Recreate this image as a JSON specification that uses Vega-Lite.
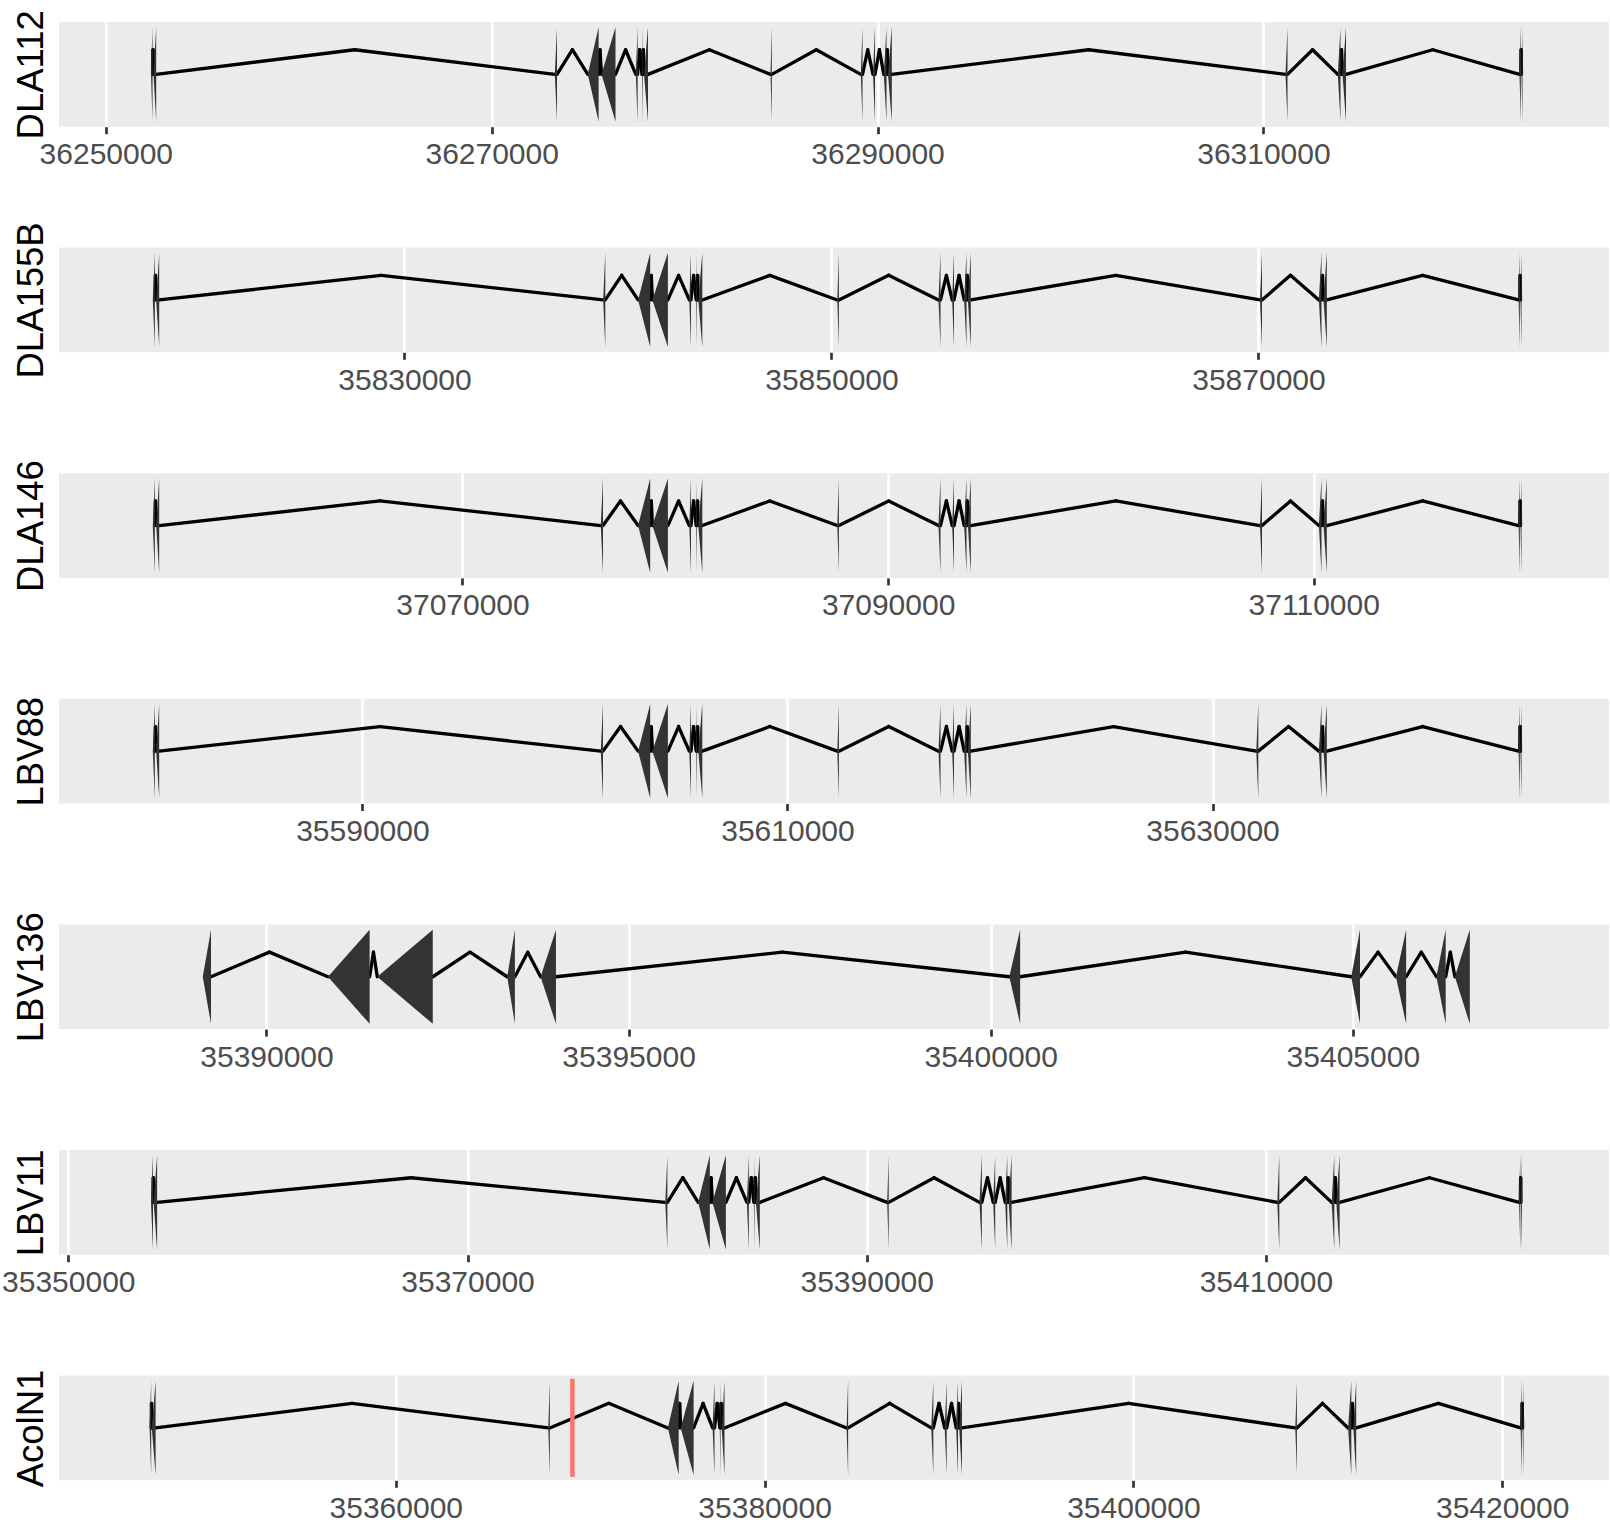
{
"$schema": "https://vega.github.io/schema/vega-lite/v6.json",
"autosize": {"type": "pad"},
"padding": {"left": 1, "top": 9, "right": 0, "bottom": 0},
"background": "white",
"datasets": {
"exons": [
{"gene":"DLA112","exon":1,"start":36252343,"end":36252420},
{"gene":"DLA112","exon":2,"start":36252472,"end":36252612},
{"gene":"DLA112","exon":3,"start":36273272,"end":36273386},
{"gene":"DLA112","exon":4,"start":36274982,"end":36275542},
{"gene":"DLA112","exon":5,"start":36275692,"end":36276418},
{"gene":"DLA112","exon":6,"start":36277470,"end":36277563},
{"gene":"DLA112","exon":7,"start":36277786,"end":36277822},
{"gene":"DLA112","exon":8,"start":36277895,"end":36278102},
{"gene":"DLA112","exon":9,"start":36284451,"end":36284519},
{"gene":"DLA112","exon":10,"start":36289132,"end":36289220},
{"gene":"DLA112","exon":11,"start":36289764,"end":36289868},
{"gene":"DLA112","exon":12,"start":36290324,"end":36290464},
{"gene":"DLA112","exon":13,"start":36290541,"end":36290738},
{"gene":"DLA112","exon":14,"start":36311144,"end":36311248},
{"gene":"DLA112","exon":15,"start":36313855,"end":36313995},
{"gene":"DLA112","exon":16,"start":36314098,"end":36314280},
{"gene":"DLA112","exon":17,"start":36323272,"end":36323339},
{"gene":"DLA112","exon":18,"start":36323376,"end":36323428},
{"gene":"DLA155B","exon":1,"start":35818210,"end":35818304},
{"gene":"DLA155B","exon":2,"start":35818370,"end":35818510},
{"gene":"DLA155B","exon":3,"start":35839307,"end":35839405},
{"gene":"DLA155B","exon":4,"start":35840942,"end":35841509},
{"gene":"DLA155B","exon":5,"start":35841612,"end":35842338},
{"gene":"DLA155B","exon":6,"start":35843340,"end":35843420},
{"gene":"DLA155B","exon":7,"start":35843663,"end":35843696},
{"gene":"DLA155B","exon":8,"start":35843762,"end":35843949},
{"gene":"DLA155B","exon":9,"start":35850272,"end":35850347},
{"gene":"DLA155B","exon":10,"start":35855013,"end":35855106},
{"gene":"DLA155B","exon":11,"start":35855654,"end":35855739},
{"gene":"DLA155B","exon":12,"start":35856216,"end":35856324},
{"gene":"DLA155B","exon":13,"start":35856390,"end":35856526},
{"gene":"DLA155B","exon":14,"start":35870072,"end":35870165},
{"gene":"DLA155B","exon":15,"start":35872830,"end":35872952},
{"gene":"DLA155B","exon":16,"start":35873046,"end":35873201},
{"gene":"DLA155B","exon":17,"start":35882184,"end":35882241},
{"gene":"DLA155B","exon":18,"start":35882273,"end":35882320},
{"gene":"DLA146","exon":1,"start":37055447,"end":37055541},
{"gene":"DLA146","exon":2,"start":37055607,"end":37055748},
{"gene":"DLA146","exon":3,"start":37076499,"end":37076602},
{"gene":"DLA146","exon":4,"start":37078251,"end":37078820},
{"gene":"DLA146","exon":5,"start":37078923,"end":37079652},
{"gene":"DLA146","exon":6,"start":37080657,"end":37080737},
{"gene":"DLA146","exon":7,"start":37080981,"end":37081014},
{"gene":"DLA146","exon":8,"start":37081080,"end":37081268},
{"gene":"DLA146","exon":9,"start":37087612,"end":37087687},
{"gene":"DLA146","exon":10,"start":37092367,"end":37092461},
{"gene":"DLA146","exon":11,"start":37093011,"end":37093096},
{"gene":"DLA146","exon":12,"start":37093575,"end":37093683},
{"gene":"DLA146","exon":13,"start":37093749,"end":37093885},
{"gene":"DLA146","exon":14,"start":37107475,"end":37107568},
{"gene":"DLA146","exon":15,"start":37110242,"end":37110364},
{"gene":"DLA146","exon":16,"start":37110458,"end":37110613},
{"gene":"DLA146","exon":17,"start":37119626,"end":37119683},
{"gene":"DLA146","exon":18,"start":37119716,"end":37119762},
{"gene":"LBV88","exon":1,"start":35580138,"end":35580232},
{"gene":"LBV88","exon":2,"start":35580298,"end":35580439},
{"gene":"LBV88","exon":3,"start":35601217,"end":35601320},
{"gene":"LBV88","exon":4,"start":35602972,"end":35603541},
{"gene":"LBV88","exon":5,"start":35603645,"end":35604374},
{"gene":"LBV88","exon":6,"start":35605381,"end":35605461},
{"gene":"LBV88","exon":7,"start":35605705,"end":35605738},
{"gene":"LBV88","exon":8,"start":35605804,"end":35605992},
{"gene":"LBV88","exon":9,"start":35612344,"end":35612419},
{"gene":"LBV88","exon":10,"start":35617106,"end":35617200},
{"gene":"LBV88","exon":11,"start":35617750,"end":35617835},
{"gene":"LBV88","exon":12,"start":35618315,"end":35618423},
{"gene":"LBV88","exon":13,"start":35618489,"end":35618625},
{"gene":"LBV88","exon":14,"start":35632058,"end":35632152},
{"gene":"LBV88","exon":15,"start":35635003,"end":35635126},
{"gene":"LBV88","exon":16,"start":35635220,"end":35635375},
{"gene":"LBV88","exon":17,"start":35644399,"end":35644456},
{"gene":"LBV88","exon":18,"start":35644489,"end":35644536},
{"gene":"LBV136","exon":1,"start":35389120,"end":35389234},
{"gene":"LBV136","exon":2,"start":35390849,"end":35391424},
{"gene":"LBV136","exon":3,"start":35391530,"end":35392296},
{"gene":"LBV136","exon":4,"start":35393324,"end":35393430},
{"gene":"LBV136","exon":5,"start":35393785,"end":35393997},
{"gene":"LBV136","exon":6,"start":35400257,"end":35400406},
{"gene":"LBV136","exon":7,"start":35404978,"end":35405099},
{"gene":"LBV136","exon":8,"start":35405595,"end":35405736},
{"gene":"LBV136","exon":9,"start":35406154,"end":35406282},
{"gene":"LBV136","exon":10,"start":35406409,"end":35406615},
{"gene":"LBV11","exon":1,"start":35354143,"end":35354243},
{"gene":"LBV11","exon":2,"start":35354274,"end":35354449},
{"gene":"LBV11","exon":3,"start":35379910,"end":35380015},
{"gene":"LBV11","exon":4,"start":35381558,"end":35382139},
{"gene":"LBV11","exon":5,"start":35382269,"end":35382946},
{"gene":"LBV11","exon":6,"start":35383998,"end":35384093},
{"gene":"LBV11","exon":7,"start":35384344,"end":35384379},
{"gene":"LBV11","exon":8,"start":35384449,"end":35384644},
{"gene":"LBV11","exon":9,"start":35391027,"end":35391102},
{"gene":"LBV11","exon":10,"start":35395651,"end":35395766},
{"gene":"LBV11","exon":11,"start":35396337,"end":35396438},
{"gene":"LBV11","exon":12,"start":35396939,"end":35397044},
{"gene":"LBV11","exon":13,"start":35397114,"end":35397259},
{"gene":"LBV11","exon":14,"start":35410571,"end":35410671},
{"gene":"LBV11","exon":15,"start":35413296,"end":35413427},
{"gene":"LBV11","exon":16,"start":35413527,"end":35413692},
{"gene":"LBV11","exon":17,"start":35422685,"end":35422745},
{"gene":"LBV11","exon":18,"start":35422780,"end":35422830},
{"gene":"AcolN1","exon":1,"start":35346649,"end":35346735},
{"gene":"AcolN1","exon":2,"start":35346768,"end":35346974},
{"gene":"AcolN1","exon":3,"start":35368270,"end":35368351},
{"gene":"AcolN1","exon":4,"start":35374756,"end":35375342},
{"gene":"AcolN1","exon":5,"start":35375450,"end":35376150},
{"gene":"AcolN1","exon":6,"start":35377180,"end":35377283},
{"gene":"AcolN1","exon":7,"start":35377571,"end":35377608},
{"gene":"AcolN1","exon":8,"start":35377674,"end":35377825},
{"gene":"AcolN1","exon":9,"start":35384447,"end":35384528},
{"gene":"AcolN1","exon":10,"start":35389040,"end":35389149},
{"gene":"AcolN1","exon":11,"start":35389767,"end":35389875},
{"gene":"AcolN1","exon":12,"start":35390390,"end":35390488},
{"gene":"AcolN1","exon":13,"start":35390553,"end":35390705},
{"gene":"AcolN1","exon":14,"start":35408780,"end":35408867},
{"gene":"AcolN1","exon":15,"start":35411643,"end":35411817},
{"gene":"AcolN1","exon":16,"start":35411925,"end":35412083},
{"gene":"AcolN1","exon":17,"start":35420998,"end":35421063},
{"gene":"AcolN1","exon":18,"start":35421106,"end":35421155}
],
"introns": [
{"gene":"DLA112","start":36252420,"peak":36252446,"end":36252472},
{"gene":"DLA112","start":36252612,"peak":36262900,"end":36273272},
{"gene":"DLA112","start":36273386,"peak":36274184,"end":36274982},
{"gene":"DLA112","start":36275542,"peak":36275614,"end":36275692},
{"gene":"DLA112","start":36276418,"peak":36276941,"end":36277470},
{"gene":"DLA112","start":36277563,"peak":36277672,"end":36277786},
{"gene":"DLA112","start":36277822,"peak":36277859,"end":36277895},
{"gene":"DLA112","start":36278102,"peak":36281280,"end":36284451},
{"gene":"DLA112","start":36284519,"peak":36286825,"end":36289132},
{"gene":"DLA112","start":36289220,"peak":36289492,"end":36289764},
{"gene":"DLA112","start":36289868,"peak":36290096,"end":36290324},
{"gene":"DLA112","start":36290464,"peak":36290503,"end":36290541},
{"gene":"DLA112","start":36290738,"peak":36300944,"end":36311144},
{"gene":"DLA112","start":36311248,"peak":36312548,"end":36313855},
{"gene":"DLA112","start":36313995,"peak":36314046,"end":36314098},
{"gene":"DLA112","start":36314280,"peak":36318778,"end":36323272},
{"gene":"DLA112","start":36323339,"peak":36323358,"end":36323376},
{"gene":"DLA155B","start":35818304,"peak":35818337,"end":35818370},
{"gene":"DLA155B","start":35818510,"peak":35828909,"end":35839307},
{"gene":"DLA155B","start":35839405,"peak":35840174,"end":35840942},
{"gene":"DLA155B","start":35841509,"peak":35841560,"end":35841612},
{"gene":"DLA155B","start":35842338,"peak":35842839,"end":35843340},
{"gene":"DLA155B","start":35843420,"peak":35843542,"end":35843663},
{"gene":"DLA155B","start":35843696,"peak":35843729,"end":35843762},
{"gene":"DLA155B","start":35843949,"peak":35847111,"end":35850272},
{"gene":"DLA155B","start":35850347,"peak":35852680,"end":35855013},
{"gene":"DLA155B","start":35855106,"peak":35855383,"end":35855654},
{"gene":"DLA155B","start":35855739,"peak":35855977,"end":35856216},
{"gene":"DLA155B","start":35856324,"peak":35856357,"end":35856390},
{"gene":"DLA155B","start":35856526,"peak":35863317,"end":35870072},
{"gene":"DLA155B","start":35870165,"peak":35871500,"end":35872830},
{"gene":"DLA155B","start":35872952,"peak":35872999,"end":35873046},
{"gene":"DLA155B","start":35873201,"peak":35877693,"end":35882184},
{"gene":"DLA155B","start":35882241,"peak":35882257,"end":35882273},
{"gene":"DLA146","start":37055541,"peak":37055574,"end":37055607},
{"gene":"DLA146","start":37055748,"peak":37066123,"end":37076499},
{"gene":"DLA146","start":37076602,"peak":37077424,"end":37078251},
{"gene":"DLA146","start":37078820,"peak":37078872,"end":37078923},
{"gene":"DLA146","start":37079652,"peak":37080155,"end":37080657},
{"gene":"DLA146","start":37080737,"peak":37080859,"end":37080981},
{"gene":"DLA146","start":37081014,"peak":37081047,"end":37081080},
{"gene":"DLA146","start":37081268,"peak":37084440,"end":37087612},
{"gene":"DLA146","start":37087687,"peak":37090027,"end":37092367},
{"gene":"DLA146","start":37092461,"peak":37092738,"end":37093011},
{"gene":"DLA146","start":37093096,"peak":37093335,"end":37093575},
{"gene":"DLA146","start":37093683,"peak":37093716,"end":37093749},
{"gene":"DLA146","start":37093885,"peak":37100699,"end":37107475},
{"gene":"DLA146","start":37107568,"peak":37108908,"end":37110242},
{"gene":"DLA146","start":37110364,"peak":37110411,"end":37110458},
{"gene":"DLA146","start":37110613,"peak":37115120,"end":37119626},
{"gene":"DLA146","start":37119683,"peak":37119699,"end":37119716},
{"gene":"LBV88","start":35580232,"peak":35580265,"end":35580298},
{"gene":"LBV88","start":35580439,"peak":35590828,"end":35601217},
{"gene":"LBV88","start":35601320,"peak":35602144,"end":35602972},
{"gene":"LBV88","start":35603541,"peak":35603593,"end":35603645},
{"gene":"LBV88","start":35604374,"peak":35604877,"end":35605381},
{"gene":"LBV88","start":35605461,"peak":35605583,"end":35605705},
{"gene":"LBV88","start":35605738,"peak":35605771,"end":35605804},
{"gene":"LBV88","start":35605992,"peak":35609168,"end":35612344},
{"gene":"LBV88","start":35612419,"peak":35614762,"end":35617106},
{"gene":"LBV88","start":35617200,"peak":35617477,"end":35617750},
{"gene":"LBV88","start":35617835,"peak":35618075,"end":35618315},
{"gene":"LBV88","start":35618423,"peak":35618456,"end":35618489},
{"gene":"LBV88","start":35618625,"peak":35625344,"end":35632058},
{"gene":"LBV88","start":35632152,"peak":35633578,"end":35635003},
{"gene":"LBV88","start":35635126,"peak":35635173,"end":35635220},
{"gene":"LBV88","start":35635375,"peak":35639887,"end":35644399},
{"gene":"LBV88","start":35644456,"peak":35644472,"end":35644489},
{"gene":"LBV136","start":35389234,"peak":35390041,"end":35390849},
{"gene":"LBV136","start":35391424,"peak":35391477,"end":35391530},
{"gene":"LBV136","start":35392296,"peak":35392810,"end":35393324},
{"gene":"LBV136","start":35393430,"peak":35393607,"end":35393785},
{"gene":"LBV136","start":35393997,"peak":35397126,"end":35400257},
{"gene":"LBV136","start":35400406,"peak":35402691,"end":35404978},
{"gene":"LBV136","start":35405099,"peak":35405348,"end":35405595},
{"gene":"LBV136","start":35405736,"peak":35405945,"end":35406154},
{"gene":"LBV136","start":35406282,"peak":35406346,"end":35406409},
{"gene":"LBV11","start":35354243,"peak":35354259,"end":35354274},
{"gene":"LBV11","start":35354449,"peak":35367179,"end":35379910},
{"gene":"LBV11","start":35380015,"peak":35380786,"end":35381558},
{"gene":"LBV11","start":35382139,"peak":35382204,"end":35382269},
{"gene":"LBV11","start":35382946,"peak":35383472,"end":35383998},
{"gene":"LBV11","start":35384093,"peak":35384218,"end":35384344},
{"gene":"LBV11","start":35384379,"peak":35384414,"end":35384449},
{"gene":"LBV11","start":35384644,"peak":35387836,"end":35391027},
{"gene":"LBV11","start":35391102,"peak":35393377,"end":35395651},
{"gene":"LBV11","start":35395766,"peak":35396052,"end":35396337},
{"gene":"LBV11","start":35396438,"peak":35396688,"end":35396939},
{"gene":"LBV11","start":35397044,"peak":35397079,"end":35397114},
{"gene":"LBV11","start":35397259,"peak":35403913,"end":35410571},
{"gene":"LBV11","start":35410671,"peak":35411984,"end":35413296},
{"gene":"LBV11","start":35413427,"peak":35413477,"end":35413527},
{"gene":"LBV11","start":35413692,"peak":35418191,"end":35422685},
{"gene":"LBV11","start":35422745,"peak":35422763,"end":35422780},
{"gene":"AcolN1","start":35346735,"peak":35346752,"end":35346768},
{"gene":"AcolN1","start":35346974,"peak":35357625,"end":35368270},
{"gene":"AcolN1","start":35368351,"peak":35371551,"end":35374756},
{"gene":"AcolN1","start":35375342,"peak":35375396,"end":35375450},
{"gene":"AcolN1","start":35376150,"peak":35376665,"end":35377180},
{"gene":"AcolN1","start":35377283,"peak":35377430,"end":35377571},
{"gene":"AcolN1","start":35377608,"peak":35377641,"end":35377674},
{"gene":"AcolN1","start":35377825,"peak":35381133,"end":35384447},
{"gene":"AcolN1","start":35384528,"peak":35386784,"end":35389040},
{"gene":"AcolN1","start":35389149,"peak":35389458,"end":35389767},
{"gene":"AcolN1","start":35389875,"peak":35390136,"end":35390390},
{"gene":"AcolN1","start":35390488,"peak":35390521,"end":35390553},
{"gene":"AcolN1","start":35390705,"peak":35399740,"end":35408780},
{"gene":"AcolN1","start":35408867,"peak":35410255,"end":35411643},
{"gene":"AcolN1","start":35411817,"peak":35411871,"end":35411925},
{"gene":"AcolN1","start":35412083,"peak":35416540,"end":35420998},
{"gene":"AcolN1","start":35421063,"peak":35421085,"end":35421106}
],
"markers": [
{"gene":"AcolN1","pos":35369577}
]
},
"vconcat": [
{"width":1550,"height":104.7,"resolve":{"axis":{"x":"independent"}},
"layer":[
{"data":{"name":"introns"},"transform":[{"filter":"datum.gene === 'DLA112'"}],
"mark":{"type":"rule","color":"black","strokeWidth":3.3,"strokeCap":"round"},
"encoding":{"x":{"field":"start","type":"quantitative","scale":{"domain":[36247574,36327911],"nice":false,"zero":false},"axis":{"values":[36250000,36270000,36290000,36310000],"title":null}},
"x2":{"field":"peak"},
"y":{"datum":0.5,"type":"quantitative","scale":{"domain":[0,1],"nice":false,"zero":false},"title":"DLA112"},
"y2":{"datum":0.735}}},
{"data":{"name":"introns"},"transform":[{"filter":"datum.gene === 'DLA112'"}],
"mark":{"type":"rule","color":"black","strokeWidth":3.3,"strokeCap":"round"},
"encoding":{"x":{"field":"peak","type":"quantitative","scale":{"domain":[36247574,36327911],"nice":false,"zero":false},"axis":{"orient":"top","values":[36260000,36280000,36300000,36320000],"gridWidth":1.35,"ticks":false,"labels":false,"title":null}},
"x2":{"field":"end"},
"y":{"datum":0.735,"type":"quantitative","scale":{"domain":[0,1],"nice":false,"zero":false},"title":"DLA112"},
"y2":{"datum":0.5}}},
{"data":{"name":"exons"},"transform":[{"filter":"datum.gene === 'DLA112'"},{"fold":["start","end"],"as":["vertex","pos"]},{"calculate":"datum.vertex === 'end' ? 0.95 : 0.5","as":"top"},{"calculate":"datum.vertex === 'end' ? 0.05 : 0.5","as":"bot"}],
"mark":{"type":"area","color":"#333333"},
"encoding":{"x":{"field":"pos","type":"quantitative","scale":{"domain":[36247574,36327911],"nice":false,"zero":false},"axis":null},
"y":{"field":"top","type":"quantitative","scale":{"domain":[0,1],"nice":false,"zero":false},"title":"DLA112"},
"y2":{"field":"bot"},"detail":{"field":"exon"}}}
]},
{"width":1550,"height":104.7,"resolve":{"axis":{"x":"independent"}},
"layer":[
{"data":{"name":"introns"},"transform":[{"filter":"datum.gene === 'DLA155B'"}],
"mark":{"type":"rule","color":"black","strokeWidth":3.3,"strokeCap":"round"},
"encoding":{"x":{"field":"start","type":"quantitative","scale":{"domain":[35813817,35886419],"nice":false,"zero":false},"axis":{"values":[35830000,35850000,35870000],"title":null}},
"x2":{"field":"peak"},
"y":{"datum":0.5,"type":"quantitative","scale":{"domain":[0,1],"nice":false,"zero":false},"title":"DLA155B"},
"y2":{"datum":0.735}}},
{"data":{"name":"introns"},"transform":[{"filter":"datum.gene === 'DLA155B'"}],
"mark":{"type":"rule","color":"black","strokeWidth":3.3,"strokeCap":"round"},
"encoding":{"x":{"field":"peak","type":"quantitative","scale":{"domain":[35813817,35886419],"nice":false,"zero":false},"axis":{"orient":"top","values":[35820000,35840000,35860000,35880000],"gridWidth":1.35,"ticks":false,"labels":false,"title":null}},
"x2":{"field":"end"},
"y":{"datum":0.735,"type":"quantitative","scale":{"domain":[0,1],"nice":false,"zero":false},"title":"DLA155B"},
"y2":{"datum":0.5}}},
{"data":{"name":"exons"},"transform":[{"filter":"datum.gene === 'DLA155B'"},{"fold":["start","end"],"as":["vertex","pos"]},{"calculate":"datum.vertex === 'end' ? 0.95 : 0.5","as":"top"},{"calculate":"datum.vertex === 'end' ? 0.05 : 0.5","as":"bot"}],
"mark":{"type":"area","color":"#333333"},
"encoding":{"x":{"field":"pos","type":"quantitative","scale":{"domain":[35813817,35886419],"nice":false,"zero":false},"axis":null},
"y":{"field":"top","type":"quantitative","scale":{"domain":[0,1],"nice":false,"zero":false},"title":"DLA155B"},
"y2":{"field":"bot"},"detail":{"field":"exon"}}}
]},
{"width":1550,"height":104.7,"resolve":{"axis":{"x":"independent"}},
"layer":[
{"data":{"name":"introns"},"transform":[{"filter":"datum.gene === 'DLA146'"}],
"mark":{"type":"rule","color":"black","strokeWidth":3.3,"strokeCap":"round"},
"encoding":{"x":{"field":"start","type":"quantitative","scale":{"domain":[37051040,37123874],"nice":false,"zero":false},"axis":{"values":[37070000,37090000,37110000],"title":null}},
"x2":{"field":"peak"},
"y":{"datum":0.5,"type":"quantitative","scale":{"domain":[0,1],"nice":false,"zero":false},"title":"DLA146"},
"y2":{"datum":0.735}}},
{"data":{"name":"introns"},"transform":[{"filter":"datum.gene === 'DLA146'"}],
"mark":{"type":"rule","color":"black","strokeWidth":3.3,"strokeCap":"round"},
"encoding":{"x":{"field":"peak","type":"quantitative","scale":{"domain":[37051040,37123874],"nice":false,"zero":false},"axis":{"orient":"top","values":[37060000,37080000,37100000,37120000],"gridWidth":1.35,"ticks":false,"labels":false,"title":null}},
"x2":{"field":"end"},
"y":{"datum":0.735,"type":"quantitative","scale":{"domain":[0,1],"nice":false,"zero":false},"title":"DLA146"},
"y2":{"datum":0.5}}},
{"data":{"name":"exons"},"transform":[{"filter":"datum.gene === 'DLA146'"},{"fold":["start","end"],"as":["vertex","pos"]},{"calculate":"datum.vertex === 'end' ? 0.95 : 0.5","as":"top"},{"calculate":"datum.vertex === 'end' ? 0.05 : 0.5","as":"bot"}],
"mark":{"type":"area","color":"#333333"},
"encoding":{"x":{"field":"pos","type":"quantitative","scale":{"domain":[37051040,37123874],"nice":false,"zero":false},"axis":null},
"y":{"field":"top","type":"quantitative","scale":{"domain":[0,1],"nice":false,"zero":false},"title":"DLA146"},
"y2":{"field":"bot"},"detail":{"field":"exon"}}}
]},
{"width":1550,"height":104.7,"resolve":{"axis":{"x":"independent"}},
"layer":[
{"data":{"name":"introns"},"transform":[{"filter":"datum.gene === 'LBV88'"}],
"mark":{"type":"rule","color":"black","strokeWidth":3.3,"strokeCap":"round"},
"encoding":{"x":{"field":"start","type":"quantitative","scale":{"domain":[35575725,35648653],"nice":false,"zero":false},"axis":{"values":[35590000,35610000,35630000],"title":null}},
"x2":{"field":"peak"},
"y":{"datum":0.5,"type":"quantitative","scale":{"domain":[0,1],"nice":false,"zero":false},"title":"LBV88"},
"y2":{"datum":0.735}}},
{"data":{"name":"introns"},"transform":[{"filter":"datum.gene === 'LBV88'"}],
"mark":{"type":"rule","color":"black","strokeWidth":3.3,"strokeCap":"round"},
"encoding":{"x":{"field":"peak","type":"quantitative","scale":{"domain":[35575725,35648653],"nice":false,"zero":false},"axis":{"orient":"top","values":[35580000,35600000,35620000,35640000],"gridWidth":1.35,"ticks":false,"labels":false,"title":null}},
"x2":{"field":"end"},
"y":{"datum":0.735,"type":"quantitative","scale":{"domain":[0,1],"nice":false,"zero":false},"title":"LBV88"},
"y2":{"datum":0.5}}},
{"data":{"name":"exons"},"transform":[{"filter":"datum.gene === 'LBV88'"},{"fold":["start","end"],"as":["vertex","pos"]},{"calculate":"datum.vertex === 'end' ? 0.95 : 0.5","as":"top"},{"calculate":"datum.vertex === 'end' ? 0.05 : 0.5","as":"bot"}],
"mark":{"type":"area","color":"#333333"},
"encoding":{"x":{"field":"pos","type":"quantitative","scale":{"domain":[35575725,35648653],"nice":false,"zero":false},"axis":null},
"y":{"field":"top","type":"quantitative","scale":{"domain":[0,1],"nice":false,"zero":false},"title":"LBV88"},
"y2":{"field":"bot"},"detail":{"field":"exon"}}}
]},
{"width":1550,"height":104.7,"resolve":{"axis":{"x":"independent"}},
"layer":[
{"data":{"name":"introns"},"transform":[{"filter":"datum.gene === 'LBV136'"}],
"mark":{"type":"rule","color":"black","strokeWidth":3.3,"strokeCap":"round"},
"encoding":{"x":{"field":"start","type":"quantitative","scale":{"domain":[35387135,35408537],"nice":false,"zero":false},"axis":{"values":[35390000,35395000,35400000,35405000],"title":null}},
"x2":{"field":"peak"},
"y":{"datum":0.5,"type":"quantitative","scale":{"domain":[0,1],"nice":false,"zero":false},"title":"LBV136"},
"y2":{"datum":0.735}}},
{"data":{"name":"introns"},"transform":[{"filter":"datum.gene === 'LBV136'"}],
"mark":{"type":"rule","color":"black","strokeWidth":3.3,"strokeCap":"round"},
"encoding":{"x":{"field":"peak","type":"quantitative","scale":{"domain":[35387135,35408537],"nice":false,"zero":false},"axis":{"orient":"top","values":[35387500,35392500,35397500,35402500,35407500],"gridWidth":1.35,"ticks":false,"labels":false,"title":null}},
"x2":{"field":"end"},
"y":{"datum":0.735,"type":"quantitative","scale":{"domain":[0,1],"nice":false,"zero":false},"title":"LBV136"},
"y2":{"datum":0.5}}},
{"data":{"name":"exons"},"transform":[{"filter":"datum.gene === 'LBV136'"},{"fold":["start","end"],"as":["vertex","pos"]},{"calculate":"datum.vertex === 'end' ? 0.95 : 0.5","as":"top"},{"calculate":"datum.vertex === 'end' ? 0.05 : 0.5","as":"bot"}],
"mark":{"type":"area","color":"#333333"},
"encoding":{"x":{"field":"pos","type":"quantitative","scale":{"domain":[35387135,35408537],"nice":false,"zero":false},"axis":null},
"y":{"field":"top","type":"quantitative","scale":{"domain":[0,1],"nice":false,"zero":false},"title":"LBV136"},
"y2":{"field":"bot"},"detail":{"field":"exon"}}}
]},
{"width":1550,"height":104.7,"resolve":{"axis":{"x":"independent"}},
"layer":[
{"data":{"name":"introns"},"transform":[{"filter":"datum.gene === 'LBV11'"}],
"mark":{"type":"rule","color":"black","strokeWidth":3.3,"strokeCap":"round"},
"encoding":{"x":{"field":"start","type":"quantitative","scale":{"domain":[35349534,35427189],"nice":false,"zero":false},"axis":{"values":[35350000,35370000,35390000,35410000],"title":null}},
"x2":{"field":"peak"},
"y":{"datum":0.5,"type":"quantitative","scale":{"domain":[0,1],"nice":false,"zero":false},"title":"LBV11"},
"y2":{"datum":0.735}}},
{"data":{"name":"introns"},"transform":[{"filter":"datum.gene === 'LBV11'"}],
"mark":{"type":"rule","color":"black","strokeWidth":3.3,"strokeCap":"round"},
"encoding":{"x":{"field":"peak","type":"quantitative","scale":{"domain":[35349534,35427189],"nice":false,"zero":false},"axis":{"orient":"top","values":[35360000,35380000,35400000,35420000],"gridWidth":1.35,"ticks":false,"labels":false,"title":null}},
"x2":{"field":"end"},
"y":{"datum":0.735,"type":"quantitative","scale":{"domain":[0,1],"nice":false,"zero":false},"title":"LBV11"},
"y2":{"datum":0.5}}},
{"data":{"name":"exons"},"transform":[{"filter":"datum.gene === 'LBV11'"},{"fold":["start","end"],"as":["vertex","pos"]},{"calculate":"datum.vertex === 'end' ? 0.95 : 0.5","as":"top"},{"calculate":"datum.vertex === 'end' ? 0.05 : 0.5","as":"bot"}],
"mark":{"type":"area","color":"#333333"},
"encoding":{"x":{"field":"pos","type":"quantitative","scale":{"domain":[35349534,35427189],"nice":false,"zero":false},"axis":null},
"y":{"field":"top","type":"quantitative","scale":{"domain":[0,1],"nice":false,"zero":false},"title":"LBV11"},
"y2":{"field":"bot"},"detail":{"field":"exon"}}}
]},
{"width":1550,"height":104.7,"resolve":{"axis":{"x":"independent"}},
"layer":[
{"data":{"name":"introns"},"transform":[{"filter":"datum.gene === 'AcolN1'"}],
"mark":{"type":"rule","color":"black","strokeWidth":3.3,"strokeCap":"round"},
"encoding":{"x":{"field":"start","type":"quantitative","scale":{"domain":[35341735,35425792],"nice":false,"zero":false},"axis":{"values":[35360000,35380000,35400000,35420000],"title":null}},
"x2":{"field":"peak"},
"y":{"datum":0.5,"type":"quantitative","scale":{"domain":[0,1],"nice":false,"zero":false},"title":"AcolN1"},
"y2":{"datum":0.735}}},
{"data":{"name":"introns"},"transform":[{"filter":"datum.gene === 'AcolN1'"}],
"mark":{"type":"rule","color":"black","strokeWidth":3.3,"strokeCap":"round"},
"encoding":{"x":{"field":"peak","type":"quantitative","scale":{"domain":[35341735,35425792],"nice":false,"zero":false},"axis":{"orient":"top","values":[35350000,35370000,35390000,35410000],"gridWidth":1.35,"ticks":false,"labels":false,"title":null}},
"x2":{"field":"end"},
"y":{"datum":0.735,"type":"quantitative","scale":{"domain":[0,1],"nice":false,"zero":false},"title":"AcolN1"},
"y2":{"datum":0.5}}},
{"data":{"name":"exons"},"transform":[{"filter":"datum.gene === 'AcolN1'"},{"fold":["start","end"],"as":["vertex","pos"]},{"calculate":"datum.vertex === 'end' ? 0.95 : 0.5","as":"top"},{"calculate":"datum.vertex === 'end' ? 0.05 : 0.5","as":"bot"}],
"mark":{"type":"area","color":"#333333"},
"encoding":{"x":{"field":"pos","type":"quantitative","scale":{"domain":[35341735,35425792],"nice":false,"zero":false},"axis":null},
"y":{"field":"top","type":"quantitative","scale":{"domain":[0,1],"nice":false,"zero":false},"title":"AcolN1"},
"y2":{"field":"bot"},"detail":{"field":"exon"}}},
{"data":{"name":"markers"},"transform":[{"filter":"datum.gene === 'AcolN1'"}],
"mark":{"type":"rule","color":"#F8766D","strokeWidth":4.5},
"encoding":{"x":{"field":"pos","type":"quantitative","scale":{"domain":[35341735,35425792],"nice":false,"zero":false},"axis":null},
"y":{"datum":0.032,"type":"quantitative","scale":{"domain":[0,1],"nice":false,"zero":false},"title":"AcolN1"},
"y2":{"datum":0.969}}}
]}
],
"spacing": 120.6,
"bounds": "flush",
"config": {
"view": {"fill": "#EBEBEB", "stroke": null},
"axisX": {"grid": true, "gridColor": "white", "gridWidth": 2.7, "gridOpacity": 1, "tickColor": "#333333", "tickWidth": 2.7, "tickSize": 7, "domain": false, "labelFont": "Liberation Sans", "labelFontSize": 30, "labelColor": "#4D4D4D", "labelPadding": 6, "labelFlush": false, "labelOverlap": false, "format": "d", "minExtent": 0},
"axisY": {"grid": false, "ticks": false, "labels": false, "domain": false, "titleFont": "Liberation Sans", "titleFontSize": 36.5, "titleFontWeight": "normal", "titleColor": "black", "titlePadding": 9, "minExtent": 0, "maxExtent": 0}
}
}
